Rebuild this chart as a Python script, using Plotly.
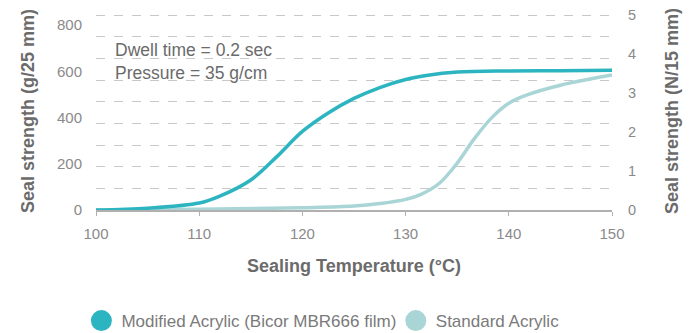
import plotly.graph_objects as go

temps_mod = [100, 105, 110, 112, 115, 117.5, 120, 122.5, 125, 127.5, 130, 132, 135, 140, 145, 150]
mod_vals = [0, 8, 30, 60, 130, 230, 340, 420, 483, 530, 565, 582, 597, 602, 603, 605]

temps_std = [100, 110, 120, 125, 127.5, 130, 131.5, 133.3, 135, 136.7, 138.4, 140, 141.7, 145, 150]
std_vals = [0, 3, 10, 17, 28, 46, 68, 117, 203, 311, 402, 462, 497, 540, 584]

left_ticks = [0, 200, 400, 600, 800]
right_ticks = [0, 1, 2, 3, 4, 5]
x_ticks = [100, 110, 120, 130, 140, 150]

TEAL = "#2cb5c0"
LIGHT = "#a9d5d6"
GRAY = "#6b6b6b"
TICK = "#8a8a8a"
FONT = "Liberation Sans"

fig = go.Figure()
fig.add_trace(go.Scatter(x=temps_std, y=std_vals, mode="lines", line=dict(color=LIGHT, width=3.5, shape="spline", smoothing=1.0),
                         showlegend=False, yaxis="y"))
fig.add_trace(go.Scatter(x=temps_mod, y=mod_vals, mode="lines", line=dict(color=TEAL, width=3.5, shape="spline", smoothing=1.0),
                         showlegend=False, yaxis="y"))
fig.add_trace(go.Scatter(x=[None], y=[None], mode="markers", marker=dict(color=TEAL, size=16, line=dict(color=TEAL, width=5)),
                         name="Modified Acrylic (Bicor MBR666 film)", legend="legend"))
fig.add_trace(go.Scatter(x=[None], y=[None], mode="markers", marker=dict(color=LIGHT, size=16, line=dict(color=LIGHT, width=5)),
                         name="Standard Acrylic", legend="legend2"))
fig.add_trace(go.Scatter(x=[None], y=[None], yaxis="y2", showlegend=False))
fig.add_trace(go.Scatter(x=[None], y=[None], yaxis="y3", showlegend=False))

legend_common = dict(orientation="h", xref="container", yref="container", xanchor="left",
                     y=0.06, yanchor="middle", font=dict(size=17, color="#7a7a7a"), itemclick=False)

fig.update_layout(
    width=695, height=333,
    margin=dict(l=88, r=91, t=4, b=131, autoexpand=False),
    paper_bgcolor="white", plot_bgcolor="white",
    font=dict(family=FONT, color=GRAY),
    xaxis=dict(range=[100, 150], tickvals=x_ticks, showgrid=False, zeroline=False, automargin=False,
               showline=True, linecolor="#b0b0b0", linewidth=2,
               ticks="outside", ticklen=4, tickcolor="#b0b0b0", tickwidth=1,
               tickfont=dict(size=15, color=TICK), ticklabelstandoff=5, ticklabeloverflow="allow",
               title=dict(text="<b>Sealing Temperature (°C)</b>", font=dict(size=18, color=GRAY), standoff=18)),
    yaxis=dict(range=[0, 857], tickvals=left_ticks, showgrid=False, zeroline=False, automargin=False,
               tickfont=dict(size=15, color=TICK), ticks="", ticklabelstandoff=13, ticklabeloverflow="allow",
               title=dict(text="<b>Seal strength (g/25 mm)</b>", font=dict(size=18, color=GRAY), standoff=17)),
    yaxis2=dict(range=[0, 5.08], tickvals=right_ticks, overlaying="y", side="right", showgrid=False,
                zeroline=False, automargin=False, tickfont=dict(size=14.5, color=TICK), ticklabelstandoff=15,
                ticklabeloverflow="allow",
                title=dict(text="<b>Seal strength (N/15 mm)</b>", font=dict(size=18, color=GRAY), standoff=30)),
    yaxis3=dict(range=[0, 9.14], dtick=1, tick0=0, overlaying="y", showgrid=True, gridcolor="#c8c8c8",
                griddash="dash", gridwidth=1, showticklabels=False, zeroline=False, automargin=False,
                layer="below traces"),
    legend=dict(x=0.1056, **legend_common),
    legend2=dict(x=0.558, **legend_common),
    annotations=[dict(x=(105 - 88) / 516, y=0.752, xref="paper", yref="paper",
                      xanchor="left", yanchor="middle",
                      text="Dwell time = 0.2 sec<br>Pressure = 35 g/cm", showarrow=False, align="left",
                      font=dict(size=17.5, color=GRAY))],
)
fig.write_html("out.html")
